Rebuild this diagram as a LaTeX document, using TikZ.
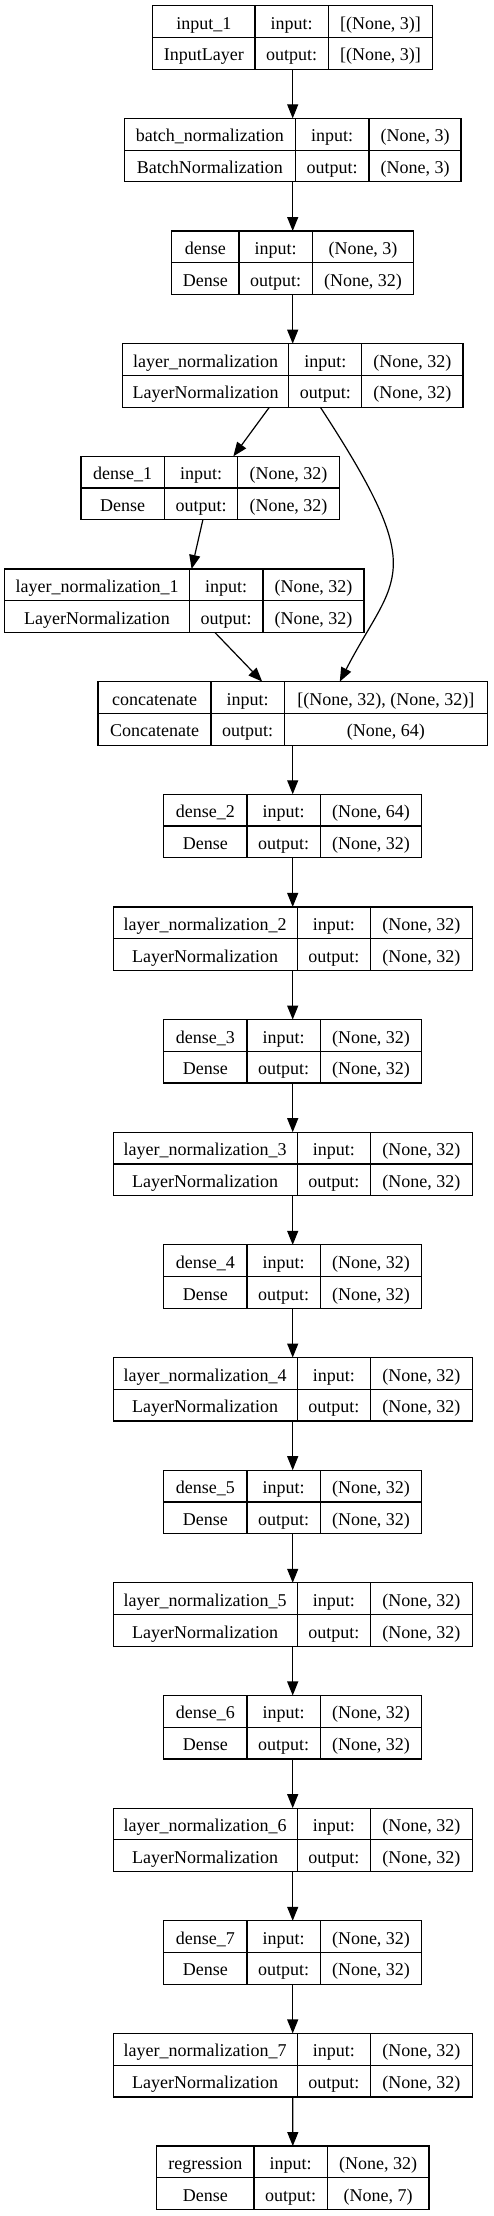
\documentclass[tikz,border=0pt]{standalone}
\usepackage{fontspec}
\setmainfont{Liberation Serif}
\usetikzlibrary{arrows.meta, positioning, calc}

\tikzset{
  layer/.style={draw, line width=1.2pt, minimum height=63.5pt, inner sep=0pt, outer sep=0pt},
  rule/.style={line width=1.2pt},
  cell/.style={anchor=base, inner sep=0pt, font=\fontsize{18}{21}\selectfont},
  arrow/.style={-{Triangle[length=14pt, width=11pt]}, line width=1.2pt}
}

% #1 id, #2 centre, #3-#5 column widths, #6 name, #7 class, #8 input, #9 output
\newcommand{\layerbox}[9]{%
  \node[layer, minimum width={#3+#4+#5}] (#1) at #2 {};
  \draw[rule] (#1.west) -- (#1.east);
  \draw[rule] ($(#1.north west)+(#3,0)$) -- ($(#1.south west)+(#3,0)$);
  \draw[rule] ($(#1.north west)+(#3+#4,0)$) -- ($(#1.south west)+(#3+#4,0)$);
  \node[cell] (#1-n) at ($(#1.north west)+(#3/2,23.5)$) {#6};
  \node[cell] (#1-c) at ($(#1.north west)+(#3/2,55.2)$) {#7};
  \node[cell] (#1-ik) at ($(#1.north west)+(#3+#4/2,23.5)$) {input:};
  \node[cell] (#1-ok) at ($(#1.north west)+(#3+#4/2,55.2)$) {output:};
  \node[cell] (#1-iv) at ($(#1.north west)+(#3+#4+#5/2,23.5)$) {#8};
  \node[cell] (#1-ov) at ($(#1.north west)+(#3+#4+#5/2,55.2)$) {#9};
}

\begin{document}
\begin{tikzpicture}[x=1pt, y=-1pt]
  \useasboundingbox (0,0) rectangle (493,2216);

  % layers, top to bottom
  \layerbox{inp}{(292.7,37.45)}{102.3}{73.3}{104.4}{input\_1}{InputLayer}{[(None, 3)]}{[(None, 3)]}
  \layerbox{bn}{(292.7,150.1)}{171}{73.7}{92}{batch\_normalization}{BatchNormalization}{(None, 3)}{(None, 3)}
  \layerbox{d0}{(292.7,262.75)}{67.3}{73.3}{101.4}{dense}{Dense}{(None, 3)}{(None, 32)}
  \layerbox{ln0}{(292.7,375.4)}{166.4}{73}{101.3}{layer\_normalization}{LayerNormalization}{(None, 32)}{(None, 32)}
  \layerbox{d1}{(210.15,488.05)}{83.3}{73.4}{101.6}{dense\_1}{Dense}{(None, 32)}{(None, 32)}
  \layerbox{ln1}{(184.35,600.7)}{184.6}{73.7}{101}{layer\_normalization\_1}{LayerNormalization}{(None, 32)}{(None, 32)}
  \layerbox{cat}{(292.7,713.35)}{113}{73.3}{203}{concatenate}{Concatenate}{[(None, 32), (None, 32)]}{(None, 64)}
  \layerbox{d2}{(292.7,826)}{83.3}{73.3}{101.4}{dense\_2}{Dense}{(None, 64)}{(None, 32)}
  \layerbox{ln2}{(292.7,938.65)}{184}{73.4}{101.6}{layer\_normalization\_2}{LayerNormalization}{(None, 32)}{(None, 32)}
  \layerbox{d3}{(292.7,1051.3)}{83.3}{73.3}{101.4}{dense\_3}{Dense}{(None, 32)}{(None, 32)}
  \layerbox{ln3}{(292.7,1163.95)}{184}{73.4}{101.6}{layer\_normalization\_3}{LayerNormalization}{(None, 32)}{(None, 32)}
  \layerbox{d4}{(292.7,1276.6)}{83.3}{73.3}{101.4}{dense\_4}{Dense}{(None, 32)}{(None, 32)}
  \layerbox{ln4}{(292.7,1389.25)}{184}{73.4}{101.6}{layer\_normalization\_4}{LayerNormalization}{(None, 32)}{(None, 32)}
  \layerbox{d5}{(292.7,1501.9)}{83.3}{73.3}{101.4}{dense\_5}{Dense}{(None, 32)}{(None, 32)}
  \layerbox{ln5}{(292.7,1614.55)}{184}{73.4}{101.6}{layer\_normalization\_5}{LayerNormalization}{(None, 32)}{(None, 32)}
  \layerbox{d6}{(292.7,1727.2)}{83.3}{73.3}{101.4}{dense\_6}{Dense}{(None, 32)}{(None, 32)}
  \layerbox{ln6}{(292.7,1839.85)}{184}{73.4}{101.6}{layer\_normalization\_6}{LayerNormalization}{(None, 32)}{(None, 32)}
  \layerbox{d7}{(292.7,1952.5)}{83.3}{73.3}{101.4}{dense\_7}{Dense}{(None, 32)}{(None, 32)}
  \layerbox{ln7}{(292.7,2065.15)}{184}{73.4}{101.6}{layer\_normalization\_7}{LayerNormalization}{(None, 32)}{(None, 32)}
  \layerbox{reg}{(292.85,2177.8)}{97.3}{73.3}{101.7}{regression}{Dense}{(None, 32)}{(None, 7)}

  % connections
  \draw[arrow] (inp) -- (bn);
  \draw[arrow] (bn) -- (d0);
  \draw[arrow] (d0) -- (ln0);
  \draw[arrow] (ln0) -- (d1);
  \draw[arrow] (d1) -- (ln1);
  \draw[arrow] (ln1) -- (cat);
  \draw[arrow] (ln0.-49.4) .. controls +(111,170) and +(55.5,-107.3) .. (cat.34.8);
  \draw[arrow] (cat) -- (d2);
  \draw[arrow] (d2) -- (ln2);
  \draw[arrow] (ln2) -- (d3);
  \draw[arrow] (d3) -- (ln3);
  \draw[arrow] (ln3) -- (d4);
  \draw[arrow] (d4) -- (ln4);
  \draw[arrow] (ln4) -- (d5);
  \draw[arrow] (d5) -- (ln5);
  \draw[arrow] (ln5) -- (d6);
  \draw[arrow] (d6) -- (ln6);
  \draw[arrow] (ln6) -- (d7);
  \draw[arrow] (d7) -- (ln7);
  \draw[arrow] (ln7) -- (reg);
\end{tikzpicture}
\end{document}
